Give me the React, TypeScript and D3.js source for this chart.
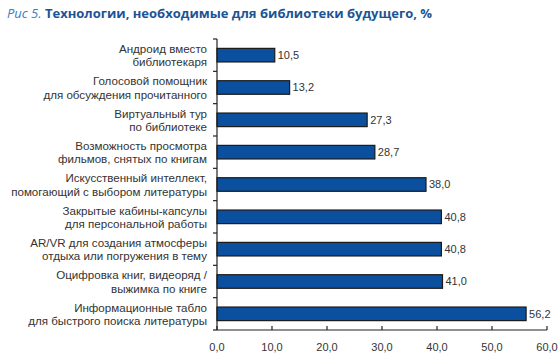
import React, { useEffect, useRef } from 'react';
import * as d3 from 'd3';

// Labels (two lines each), top to bottom
const categories: string[][] = [
  ['Андроид вместо', 'библиотекаря'],
  ['Голосовой помощник', 'для обсуждения прочитанного'],
  ['Виртуальный тур', 'по библиотеке'],
  ['Возможность просмотра', 'фильмов, снятых по книгам'],
  ['Искусственный интеллект,', 'помогающий с выбором литературы'],
  ['Закрытые кабины-капсулы', 'для персональной работы'],
  ['AR/VR для создания атмосферы', 'отдыха или погружения в тему'],
  ['Оцифровка книг, видеоряд /', 'выжимка по книге'],
  ['Информационные табло', 'для быстрого поиска литературы'],
];
const values: number[] = [10.5, 13.2, 27.3, 28.7, 38.0, 40.8, 40.8, 41.0, 56.2];
const xTicks: number[] = [0, 10, 20, 30, 40, 50, 60];

const fmt = (v: number) => v.toFixed(1).replace('.', ',');

export default function App() {
  const svgRef = useRef<SVGSVGElement>(null);

  useEffect(() => {
    if (!svgRef.current) return;
    const W = 560, H = 358;
    const left = 217, right = 547, top = 39, bottom = 330;

    const svg = d3.select(svgRef.current);
    svg.selectAll('*').remove();

    // Title
    const title = svg.append('text')
      .attr('x', 7)
      .attr('y', 18)
      .style('font-family', '"Open Sans", "Noto Sans", sans-serif')
      .style('font-size', '13px');
    title.append('tspan')
      .attr('fill', '#3d7cc2')
      .style('font-style', 'italic')
      .text('Рис 5. ');
    title.append('tspan')
      .attr('fill', '#1b5496')
      .style('font-weight', 'bold')
      .text('Технологии, необходимые для библиотеки будущего, %');

    const idx = categories.map((_, i) => String(i));
    const y = d3.scaleBand().domain(idx).range([top, bottom]).paddingInner(0.58).paddingOuter(0.29);
    const yb = d3.scaleBand().domain(idx).range([top, bottom]);
    const x = d3.scaleLinear().domain([0, 60]).range([left, right]);

    const g = svg.append('g');

    // Bars
    g.selectAll('rect.bar')
      .data(values)
      .enter()
      .append('rect')
      .attr('class', 'bar')
      .attr('x', x(0))
      .attr('y', (_, i) => y(String(i)) || 0)
      .attr('width', d => x(d) - x(0))
      .attr('height', y.bandwidth())
      .attr('fill', '#0b4f9f')
      .attr('stroke', '#1a1a1a')
      .attr('stroke-width', 1.2);

    // Value labels
    g.selectAll('text.val')
      .data(values)
      .enter()
      .append('text')
      .attr('class', 'val')
      .attr('x', d => x(d) + 3)
      .attr('y', (_, i) => (y(String(i)) || 0) + y.bandwidth() / 2)
      .attr('dy', '0.36em')
      .attr('fill', '#333')
      .style('font-family', '"Liberation Sans", Arial, sans-serif')
      .style('font-size', '11px')
      .text(d => fmt(d));

    // Y axis
    const yAxis = g.append('g')
      .attr('transform', `translate(${left},0)`);
    yAxis.append('line')
      .attr('x1', 0).attr('x2', 0)
      .attr('y1', top).attr('y2', bottom)
      .attr('stroke', '#222').attr('stroke-width', 1.2);
    const boundaries = idx.map(d => yb(d) || 0).concat([bottom]);
    yAxis.selectAll('line.tick')
      .data(boundaries)
      .enter()
      .append('line')
      .attr('class', 'tick')
      .attr('x1', -4).attr('x2', 0)
      .attr('y1', d => d).attr('y2', d => d)
      .attr('stroke', '#222').attr('stroke-width', 1.2);

    // Category labels
    const labels = g.selectAll('text.cat')
      .data(categories)
      .enter()
      .append('text')
      .attr('class', 'cat')
      .attr('text-anchor', 'end')
      .attr('fill', '#333')
      .style('font-family', '"Liberation Sans", Arial, sans-serif')
      .style('font-size', '12px')
      .attr('transform', (_, i) => `translate(${left - 10},${(yb(String(i)) || 0) + yb.bandwidth() / 2})`);
    labels.selectAll('tspan')
      .data(d => d)
      .enter()
      .append('tspan')
      .attr('x', 0)
      .attr('y', (_, j) => (j === 0 ? -2.2 : 11.3))
      .text(d => d);

    // fit the widest label line to ~196px like the reference
    let maxW = 0;
    labels.selectAll<SVGTSpanElement, string>('tspan').each(function () {
      maxW = Math.max(maxW, this.getComputedTextLength());
    });
    if (maxW > 0) labels.style('font-size', `${Math.min(13, (12 * 196) / maxW)}px`);

    // X axis
    const xAxis = g.append('g')
      .attr('transform', `translate(0,${bottom})`);
    xAxis.append('line')
      .attr('x1', left).attr('x2', right)
      .attr('y1', 0).attr('y2', 0)
      .attr('stroke', '#222').attr('stroke-width', 1.2);
    xAxis.selectAll('line.tick')
      .data(xTicks)
      .enter()
      .append('line')
      .attr('class', 'tick')
      .attr('x1', d => x(d)).attr('x2', d => x(d))
      .attr('y1', -4).attr('y2', 0)
      .attr('stroke', '#222').attr('stroke-width', 1.2);
    xAxis.selectAll('text')
      .data(xTicks)
      .enter()
      .append('text')
      .attr('x', d => x(d))
      .attr('y', 21)
      .attr('text-anchor', 'middle')
      .attr('fill', '#333')
      .style('font-family', '"Liberation Sans", Arial, sans-serif')
      .style('font-size', '11px')
      .text(d => fmt(d));

    svg.attr('width', W).attr('height', H);
  }, []);

  return (
    <div style={{ position: 'absolute', left: 0, top: 0, background: '#fff' }}>
      <svg ref={svgRef} width={560} height={358} style={{ display: 'block' }} />
    </div>
  );
}
